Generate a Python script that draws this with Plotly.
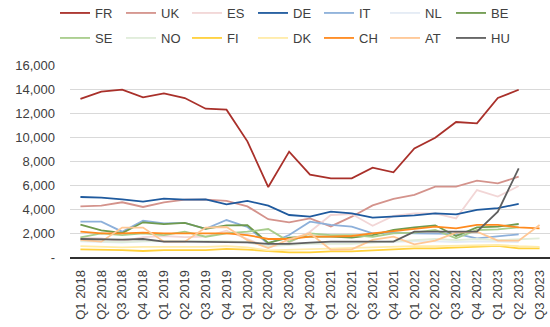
import plotly.graph_objects as go

quarters = ["Q1 2018", "Q2 2018", "Q3 2018", "Q4 2018",
            "Q1 2019", "Q2 2019", "Q3 2019", "Q4 2019",
            "Q1 2020", "Q2 2020", "Q3 2020", "Q4 2020",
            "Q1 2021", "Q2 2021", "Q3 2021", "Q4 2021",
            "Q1 2022", "Q2 2022", "Q3 2022", "Q4 2022",
            "Q1 2023", "Q2 2023", "Q3 2023"]

FR = [13170, 13780, 13940, 13300, 13640, 13250, 12360, 12280, 9640, 5830, 8780, 6860,
      6550, 6550, 7440, 7060, 9050, 9940, 11250, 11140, 13250, 13940]
UK = [4220, 4280, 4560, 4170, 4560, 4780, 4780, 4670, 4220, 3150, 2890, 3220,
      2550, 3360, 4300, 4850, 5170, 5860, 5860, 6360, 6140, 6690]
ES = [1600, 1550, 1300, 1650, 1750, 1650, 1700, 2200, 1500, 800, 1200, 2100,
      3500, 3580, 2600, 3420, 3640, 3640, 3220, 5580, 5030, 5920]
DE = [5000, 4950, 4800, 4610, 4860, 4780, 4800, 4390, 4670, 4280, 3500, 3360,
      3780, 3640, 3280, 3360, 3470, 3640, 3560, 3920, 4080, 4420]
IT = [2940, 2940, 2110, 3020, 2800, 2850, 2350, 3080, 2500, 1100, 1830, 2940,
      2670, 2530, 1970, 2050, 1970, 1920, 1920, 1560, 1750, 1890]
NL = [1300, 1250, 1200, 1300, 1300, 1250, 1250, 1300, 1200, 950, 1050, 1150,
      1150, 1200, 1200, 1250, 1300, 1300, 1250, 1300, 1300, 1250]
BE = [2700, 2220, 2000, 2890, 2740, 2840, 2350, 2630, 2650, 1180, 1610, 1690,
      1690, 1610, 1830, 2250, 2470, 2640, 1750, 2470, 2530, 2750]
SE = [1640, 1970, 1830, 1970, 1830, 2110, 1690, 1970, 2110, 2330, 1280, 1970,
      1830, 1830, 1690, 1970, 2030, 2250, 1560, 2250, 2310, 2470]
NO = [1350, 1300, 1250, 1300, 1350, 1300, 1350, 1300, 1250, 900, 1000, 1100,
      1100, 1100, 1200, 1300, 1400, 1500, 1400, 1500, 1400, 1500, 1550]
FI = [640, 640, 580, 500, 580, 580, 580, 670, 620, 500, 390, 390,
      470, 470, 550, 650, 720, 720, 780, 800, 920, 720, 720]
DK = [900, 850, 800, 850, 850, 800, 850, 900, 800, 550, 600, 700,
      700, 750, 800, 850, 900, 900, 950, 950, 1000, 900, 850]
CH = [2110, 1970, 1970, 2030, 1970, 1970, 1920, 1970, 1830, 1500, 1500, 1690,
      1690, 1750, 1970, 2150, 2390, 2530, 2390, 2670, 2670, 2470, 2390]
AT = [1420, 1280, 2450, 2450, 1280, 1280, 2450, 2500, 1400, 750, 1470, 1970,
      600, 640, 1420, 1700, 1060, 1360, 2030, 2110, 1360, 1360, 2670]
HU = [1500, 1450, 1450, 1500, 1280, 1280, 1280, 1280, 1220, 1100, 1100, 1200,
      1280, 1280, 1280, 1280, 2110, 2110, 2110, 2110, 3780, 7390]

ytick_vals = [0, 2000, 4000, 6000, 8000, 10000, 12000, 14000, 16000]
ytick_text = ["-", "2,000", "4,000", "6,000", "8,000", "10,000", "12,000", "14,000", "16,000"]

series = [
    ("FR", FR, "#A9302A", "legend"),
    ("UK", UK, "#D4938C", "legend"),
    ("ES", ES, "#F2D6D6", "legend"),
    ("DE", DE, "#1F5A9E", "legend"),
    ("IT", IT, "#8DB0DA", "legend"),
    ("NL", NL, "#E4EBF5", "legend"),
    ("BE", BE, "#6F9A4E", "legend"),
    ("SE", SE, "#A8CD8C", "legend2"),
    ("NO", NO, "#E0ECDA", "legend2"),
    ("FI", FI, "#FFD03A", "legend2"),
    ("DK", DK, "#FFEBA8", "legend2"),
    ("CH", CH, "#FF8A1E", "legend2"),
    ("AT", AT, "#FFC794", "legend2"),
    ("HU", HU, "#5F5F5F", "legend2"),
]

fig = go.Figure()
for name, vals, col, lg in series:
    fig.add_trace(go.Scatter(
        x=quarters[:len(vals)], y=vals, name=name, mode="lines",
        line=dict(color=col, width=1.8), legend=lg))

font = dict(family="Liberation Sans, Arial, sans-serif", size=13, color="#404040")
legend_common = dict(orientation="h", xref="container", yref="container",
                     xanchor="left", yanchor="middle", entrywidth=21,
                     entrywidthmode="pixels", itemwidth=30, font=font,
                     bgcolor="rgba(0,0,0,0)", traceorder="normal")

fig.update_layout(
    width=550, height=327,
    margin=dict(l=70, r=0, t=65, b=70),
    plot_bgcolor="white", paper_bgcolor="white",
    font=font,
    showlegend=True,
    legend=dict(x=55 / 550, y=1 - 13 / 327, **legend_common),
    legend2=dict(x=55 / 550, y=1 - 38 / 327, **legend_common),
    xaxis=dict(type="category", categoryorder="array", categoryarray=quarters,
               range=[-0.5, 22.5], tickangle=-90, showgrid=False,
               showline=True, linecolor="#303030", linewidth=1.5,
               ticks="", tickfont=font, ticklabelstandoff=6),
    yaxis=dict(range=[0, 16000], tickvals=ytick_vals, ticktext=ytick_text,
               showgrid=True, gridcolor="#D9D9D9", gridwidth=1,
               zeroline=False, showline=False, ticks="", tickfont=font,
               ticklabelstandoff=14),
)

fig.write_html("out.html")
